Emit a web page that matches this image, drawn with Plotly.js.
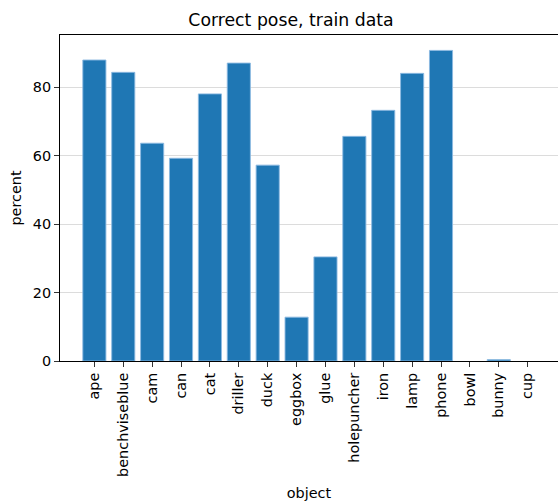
<!DOCTYPE html>
<html>
<head>
<meta charset="utf-8">
<script src="https://cdn.plot.ly/plotly-3.0.1.min.js"></script>
<style>html,body{margin:0;padding:0;background:#fff;}</style>
</head>
<body>
<div id="chart" style="width:558px;height:503px;"></div>
<script>
const objects = ["ape","benchviseblue","cam","can","cat","driller","duck","eggbox","glue","holepuncher","iron","lamp","phone","bowl","bunny","cup"];
const percent = [87.9, 84.3, 63.6, 59.2, 78.0, 87.0, 57.2, 12.8, 30.4, 65.6, 73.2, 84.0, 90.7, 0, 0.4, 0];
const yTicks = [0, 20, 40, 60, 80];

const idx = objects.map((_, i) => i);

const trace = {
  type: 'bar',
  x: idx,
  y: percent,
  width: 0.8,
  marker: {color: '#1f77b4', line: {color: 'rgba(140,185,225,0.9)', width: percent.map(v => v > 0 ? 1 : 0)}},
  hoverinfo: 'skip'
};

const font = {family: 'DejaVu Sans, sans-serif', size: 14.4, color: '#000'};

const layout = {
  width: 558, height: 503,
  margin: {l: 59.5, r: 0, t: 35, b: 142},
  paper_bgcolor: '#fff', plot_bgcolor: '#fff',
  font: font,
  showlegend: false,
  title: {text: 'Correct pose, train data', font: {family: 'DejaVu Sans, sans-serif', size: 17.3, color: '#000'},
          x: 291/558, xref: 'container', xanchor: 'center', y: 1 - 20/503, yref: 'container', yanchor: 'middle'},
  xaxis: {
    range: [-1.19, 16.05],
    tickmode: 'array', tickvals: idx, ticktext: objects,
    tickangle: -90, ticks: 'outside', ticklen: 5, tickcolor: '#333', tickwidth: 1,
    showline: true, mirror: true, linecolor: '#000', linewidth: 1,
    showgrid: false, zeroline: false, fixedrange: true,
    tickfont: font,
    title: {text: 'object', font: font, standoff: 12}
  },
  yaxis: {
    range: [0, 95.2],
    tickmode: 'array', tickvals: yTicks, ticktext: yTicks.map(String),
    ticks: 'outside', ticklen: 5, tickcolor: '#333', tickwidth: 1,
    showline: true, mirror: false, linecolor: '#000', linewidth: 1,
    showgrid: true, gridcolor: '#dcdcdc', gridwidth: 1, zeroline: false,
    tickfont: font,
    title: {text: 'percent', font: font, standoff: 7}
  }
};

Plotly.newPlot('chart', [trace], layout, {displayModeBar: false, staticPlot: true});
</script>
</body>
</html>
